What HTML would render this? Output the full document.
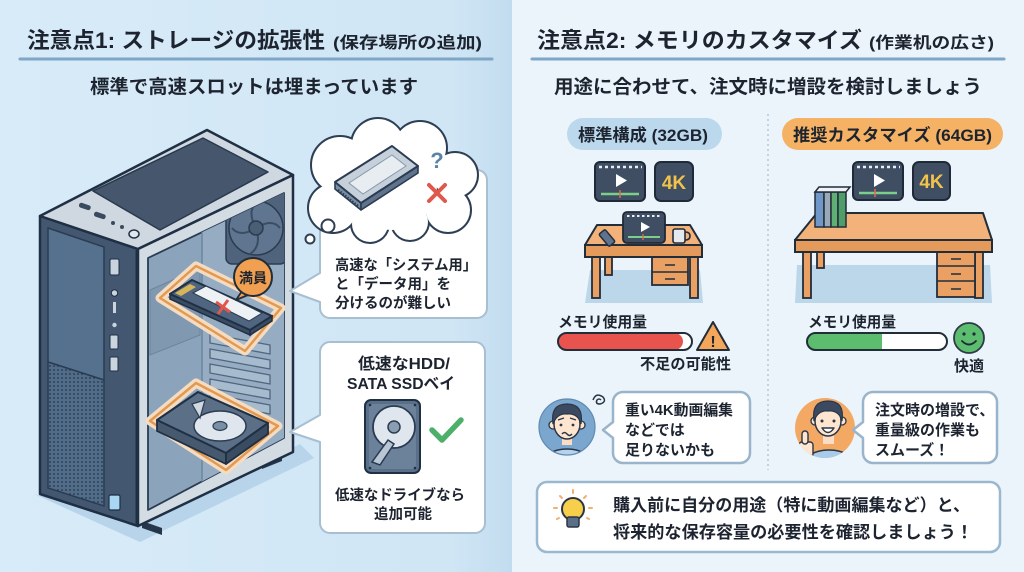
<!DOCTYPE html>
<html><head><meta charset="utf-8">
<style>
html,body{margin:0;padding:0;width:1024px;height:572px;overflow:hidden;background:#eaf4fa;}
svg{display:block;}
text{font-family:"Liberation Sans","Noto Sans CJK JP",sans-serif;fill:#1d2430;}
</style></head><body>
<svg width="1024" height="572" viewBox="0 0 1024 572" xmlns="http://www.w3.org/2000/svg">
<defs>
<linearGradient id="lbg" x1="0" x2="1" y1="0" y2="0">
<stop offset="0" stop-color="#d8ebf8"/><stop offset="0.88" stop-color="#d0e6f5"/><stop offset="1" stop-color="#c2dcef"/>
</linearGradient>
<pattern id="mesh" width="4" height="4" patternUnits="userSpaceOnUse"><rect width="4" height="4" fill="#516c88"/><circle cx="2" cy="2" r="0.9" fill="#24364c"/></pattern>
<clipPath id="inter"><polygon points="148,258 284,193 284,438 148,510"/></clipPath>
<clipPath id="av1"><circle cx="567" cy="427" r="28"/></clipPath>
<clipPath id="av2"><circle cx="825" cy="428" r="30"/></clipPath>
</defs>

<!-- backgrounds -->
<rect x="0" y="0" width="512" height="572" fill="url(#lbg)"/>
<rect x="512" y="0" width="512" height="572" fill="#eaf4fa"/>

<!-- LEFT TITLES -->
<text x="27" y="48" font-size="22" font-weight="700" textLength="298" lengthAdjust="spacingAndGlyphs">注意点1: ストレージの拡張性</text>
<text x="333" y="48" font-size="16" font-weight="700" textLength="149" lengthAdjust="spacingAndGlyphs">(保存場所の追加)</text>
<line x1="20" y1="59" x2="492" y2="59" stroke="#7ea6c6" stroke-width="3" stroke-linecap="round"/>
<text x="90" y="93" font-size="19" font-weight="700" textLength="328" lengthAdjust="spacingAndGlyphs">標準で高速スロットは埋まっています</text>

<!-- RIGHT TITLES -->
<text x="537" y="48" font-size="22" font-weight="700" textLength="325" lengthAdjust="spacingAndGlyphs">注意点2: メモリのカスタマイズ</text>
<text x="869" y="48" font-size="16" font-weight="700" textLength="125" lengthAdjust="spacingAndGlyphs">(作業机の広さ)</text>
<line x1="532" y1="59" x2="1004" y2="59" stroke="#7ea6c6" stroke-width="3" stroke-linecap="round"/>
<text x="554" y="93" font-size="19" font-weight="700" textLength="428" lengthAdjust="spacingAndGlyphs">用途に合わせて、注文時に増設を検討しましょう</text>

<!-- ================= PC CASE ================= -->
<polygon points="34,494 140,542 314,458 300,444 140,522" fill="#b8d4ea"/>
<polygon points="142,521 162,528 162,535 142,528" fill="#26364a"/>
<polygon points="262,460 282,452 282,461 262,469" fill="#26364a"/>
<!-- front face -->
<polygon points="40,216 138,249 138,526 40,494" fill="#435870" stroke="#1f2f44" stroke-width="2.5" stroke-linejoin="round"/>
<polygon points="48,228 104,247 104,380 48,362" fill="#56718e" stroke="#2a3c52" stroke-width="1.5"/>
<polygon points="48,362 104,380 104,506 48,488" fill="url(#mesh)" stroke="#2a3c52" stroke-width="1.5"/>
<rect x="110" y="259" width="9" height="16" rx="1.5" fill="#cad4df" stroke="#1f2f44" stroke-width="1"/>
<circle cx="114.5" cy="293" r="3.2" fill="#cad4df" stroke="#1f2f44" stroke-width="1"/>
<rect x="113" y="302" width="3" height="11" fill="#cad4df"/>
<circle cx="114.5" cy="325" r="2.2" fill="#cad4df"/>
<rect x="110" y="335" width="8" height="14" rx="1" fill="#cad4df" stroke="#1f2f44" stroke-width="1"/>
<rect x="110" y="357" width="8" height="14" rx="1" fill="#cad4df" stroke="#1f2f44" stroke-width="1"/>
<rect x="109" y="495" width="11" height="15" rx="1.5" fill="#a9d6f2" stroke="#1f2f44" stroke-width="1.2"/>
<line x1="137" y1="250" x2="137" y2="525" stroke="#1f2f44" stroke-width="3"/>
<!-- top face -->
<polygon points="40,216 207,130 293,175 138,249" fill="#cfd8e1" stroke="#1f2f44" stroke-width="2.5" stroke-linejoin="round"/>
<polygon points="93,191 203,138 268,172 160,230" fill="#46566c" stroke="#2a3a4e" stroke-width="1.5" stroke-linejoin="round"/>
<rect x="79" y="204" width="12" height="5" rx="2.2" fill="#3a4a5e" transform="rotate(18.6 85 206)"/>
<rect x="94" y="213" width="12" height="5" rx="2.2" fill="#3a4a5e" transform="rotate(18.6 100 215)"/>
<circle cx="113" cy="223" r="2" fill="#3a4a5e"/>
<circle cx="122" cy="227" r="2" fill="#3a4a5e"/>
<ellipse cx="134" cy="234" rx="5" ry="4" fill="#dfe6ec" stroke="#1f2f44" stroke-width="1.5"/>
<!-- side face -->
<polygon points="138,249 293,175 293,452 138,526" fill="#d3dbe3" stroke="#1f2f44" stroke-width="2.5" stroke-linejoin="round"/>
<polygon points="148,258 284,193 284,438 148,510" fill="#8ca4bb" stroke="#2a3c52" stroke-width="1.8" stroke-linejoin="round"/>
<g clip-path="url(#inter)">
  <polygon points="202,230 284,193 284,438 202,482" fill="#95acc2"/>
  <line x1="202" y1="230" x2="202" y2="482" stroke="#6d869e" stroke-width="1.5"/>
  <polygon points="150,290 200,268 200,335 150,355" fill="#8199b0" stroke="#6d869e" stroke-width="1"/>
  <!-- fan -->
  <rect x="226" y="190" width="60" height="74" rx="6" fill="#4f647c" stroke="#2a3c52" stroke-width="1.5"/>
  <circle cx="256" cy="228" r="27" fill="#5f7590" stroke="#2a3c52" stroke-width="1.5"/>
  <g stroke="#3a4d63" stroke-width="2" fill="none">
    <path d="M256,228 Q246,210 258,202"/><path d="M256,228 Q272,218 280,228"/>
    <path d="M256,228 Q262,246 250,254"/><path d="M256,228 Q240,238 232,228"/>
  </g>
  <circle cx="256" cy="228" r="7" fill="#4a5e76" stroke="#2a3c52" stroke-width="1.5"/>
  <!-- slots -->
  <g fill="#a7bbce" stroke="#4f667e" stroke-width="1.3">
    <polygon points="210,334 270,345 270,354 210,343"/>
    <polygon points="210,349 270,360 270,369 210,358"/>
    <polygon points="210,364 270,375 270,384 210,373"/>
    <polygon points="210,379 270,390 270,399 210,388"/>
    <polygon points="210,394 270,405 270,414 210,403"/>
  </g>
</g>
<!-- HDD in case -->
<polygon points="150,421 196,383 278,426 226,470" fill="none" stroke="#f4dcc2" stroke-width="9" stroke-linejoin="round"/>
<polygon points="150,421 196,383 278,426 226,470" fill="none" stroke="#e4994f" stroke-width="2.5" stroke-linejoin="round"/>
<polygon points="157,420 226,453 226,464 157,431" fill="#46596f" stroke="#1f2f44" stroke-width="1.8" stroke-linejoin="round"/>
<polygon points="226,453 268,423 268,434 226,464" fill="#3a4c61" stroke="#1f2f44" stroke-width="1.8" stroke-linejoin="round"/>
<polygon points="157,420 198,392 268,423 226,453" fill="#5b6f86" stroke="#1f2f44" stroke-width="2" stroke-linejoin="round"/>
<ellipse cx="220" cy="426" rx="26" ry="15" fill="#dfe6ee" stroke="#2a3c52" stroke-width="1.5"/>
<ellipse cx="220" cy="426" rx="7" ry="4.5" fill="#7a8fa5" stroke="#2a3c52" stroke-width="1.2"/>
<path d="M192,404 L205,400 L200,418 Z" fill="#cfd8e1" stroke="#2a3c52" stroke-width="1.2"/>
<!-- SSD in case -->
<polygon points="160,298 196,266 281,308 245,351" fill="none" stroke="#f4dcc2" stroke-width="9" stroke-linejoin="round"/>
<polygon points="160,298 196,266 281,308 245,351" fill="none" stroke="#e4994f" stroke-width="2.5" stroke-linejoin="round"/>
<polygon points="170,294 250,330 250,335 170,299" fill="#3a4c61" stroke="#1f2f44" stroke-width="1.5"/>
<polygon points="250,330 272,316 272,321 250,335" fill="#3a4c61" stroke="#1f2f44" stroke-width="1.5"/>
<polygon points="170,294 192,280 272,316 250,330" fill="#506580" stroke="#1f2f44" stroke-width="2" stroke-linejoin="round"/>
<polygon points="175,293 190,284 196,287 181,296" fill="#d6b45a"/>
<polygon points="193,293 206,286 262,313 249,321" fill="#eef2f5" stroke="#2a3c52" stroke-width="1"/>
<line x1="216" y1="302" x2="230" y2="312" stroke="#e0574c" stroke-width="3"/>
<line x1="228" y1="300" x2="218" y2="314" stroke="#e0574c" stroke-width="3"/>
<!-- badge -->
<path d="M242,291 L236,300 L248,295 Z" fill="#f0a050" stroke="#222d3a" stroke-width="1.8" stroke-linejoin="round"/>
<circle cx="253" cy="277" r="19" fill="#f0a050" stroke="#222d3a" stroke-width="2"/>
<text x="253" y="283" font-size="14" font-weight="700" text-anchor="middle">満員</text>

<!-- ================= BUBBLE 1 ================= -->
<path d="M330,170 H477 A10,10 0 0 1 487,180 V308 A10,10 0 0 1 477,318 H330 A10,10 0 0 1 320,308 V302 L290,291 L320,273 V180 A10,10 0 0 1 330,170 Z" fill="#fff" stroke="#a7bfd1" stroke-width="2" stroke-linejoin="round"/>
<text x="335" y="270" font-size="14.5" font-weight="700" textLength="142" lengthAdjust="spacingAndGlyphs">高速な「システム用」</text>
<text x="335" y="289" font-size="14.5" font-weight="700">と「データ用」を</text>
<text x="335" y="308" font-size="14.5" font-weight="700">分けるのが難しい</text>
<!-- cloud -->
<g fill="#fff" stroke="#2e3f55" stroke-width="4">
  <circle cx="340" cy="165" r="28"/><circle cx="378" cy="145" r="26"/><circle cx="420" cy="148" r="26"/>
  <circle cx="455" cy="175" r="22"/><circle cx="448" cy="210" r="22"/><circle cx="410" cy="222" r="18"/>
  <circle cx="370" cy="224" r="18"/><circle cx="333" cy="208" r="24"/>
</g>
<g fill="#fff">
  <circle cx="340" cy="165" r="28"/><circle cx="378" cy="145" r="26"/><circle cx="420" cy="148" r="26"/>
  <circle cx="455" cy="175" r="22"/><circle cx="448" cy="210" r="22"/><circle cx="410" cy="222" r="18"/>
  <circle cx="370" cy="224" r="18"/><circle cx="333" cy="208" r="24"/><circle cx="392" cy="185" r="45"/>
</g>
<circle cx="328" cy="226" r="6.5" fill="#fff" stroke="#2e3f55" stroke-width="2"/>
<circle cx="310" cy="239" r="4.5" fill="#fff" stroke="#2e3f55" stroke-width="2"/>
<!-- ssd icon in cloud -->
<polygon points="335,182 361,203 361,210 335,189" fill="#7a8ea4" stroke="#2a3c52" stroke-width="1.6" stroke-linejoin="round"/>
<polygon points="361,203 418,166 418,173 361,210" fill="#5f748c" stroke="#2a3c52" stroke-width="1.6" stroke-linejoin="round"/>
<polygon points="335,182 392,146 418,166 361,203" fill="#c6d0da" stroke="#2a3c52" stroke-width="2" stroke-linejoin="round"/>
<polygon points="349,183 392,155 406,166 363,194" fill="#e8edf2" stroke="#8899ab" stroke-width="1"/>
<line x1="338" y1="190" x2="358" y2="206" stroke="#2a3c52" stroke-width="2.5" stroke-dasharray="1.5 1.5"/>
<text x="437" y="168" font-size="22" font-weight="700" text-anchor="middle" style="fill:#5a83a8">?</text>
<line x1="429" y1="185" x2="445" y2="201" stroke="#e0574c" stroke-width="4" stroke-linecap="round"/>
<line x1="445" y1="185" x2="429" y2="201" stroke="#e0574c" stroke-width="4" stroke-linecap="round"/>

<!-- ================= BUBBLE 2 ================= -->
<path d="M330,342 H475 A10,10 0 0 1 485,352 V523 A10,10 0 0 1 475,533 H330 A10,10 0 0 1 320,523 V442 L290,432 L320,415 V352 A10,10 0 0 1 330,342 Z" fill="#fff" stroke="#a7bfd1" stroke-width="2" stroke-linejoin="round"/>
<text x="404" y="369" font-size="16" font-weight="700" text-anchor="middle" textLength="92" lengthAdjust="spacingAndGlyphs">低速なHDD/</text>
<text x="401" y="389" font-size="16" font-weight="700" text-anchor="middle" textLength="108" lengthAdjust="spacingAndGlyphs">SATA SSDベイ</text>
<rect x="365" y="400" width="55" height="73" rx="6" fill="#5a7089" stroke="#1f2f44" stroke-width="2"/>
<rect x="369" y="404" width="47" height="65" rx="4" fill="#6c829b"/>
<circle cx="394" cy="427" r="21" fill="#dfe6ee" stroke="#2a3c52" stroke-width="1.8"/>
<circle cx="394" cy="427" r="6" fill="#8a9db1" stroke="#2a3c52" stroke-width="1.5"/>
<path d="M372,462 L388,440 L394,444 L380,465 Z" fill="#b9c7d5" stroke="#2a3c52" stroke-width="1.5"/>
<circle cx="370" cy="405" r="1.3" fill="#1f2f44"/><circle cx="415" cy="405" r="1.3" fill="#1f2f44"/>
<circle cx="370" cy="468" r="1.3" fill="#1f2f44"/><circle cx="415" cy="468" r="1.3" fill="#1f2f44"/>
<polyline points="432,430 442,440 461,420" fill="none" stroke="#4caf6a" stroke-width="5.5" stroke-linecap="round" stroke-linejoin="round"/>
<text x="335" y="500" font-size="14.5" font-weight="700" textLength="130" lengthAdjust="spacingAndGlyphs">低速なドライブなら</text>
<text x="403" y="519" font-size="14.5" font-weight="700" text-anchor="middle">追加可能</text>

<!-- ================= RIGHT PANEL ================= -->
<line x1="768" y1="114" x2="768" y2="470" stroke="#b5c8d6" stroke-width="1.5" stroke-dasharray="2 3"/>

<!-- pills -->
<rect x="567" y="118" width="155" height="32" rx="16" fill="#bcd8ed"/>
<text x="578" y="141" font-size="17" font-weight="700" textLength="130" lengthAdjust="spacingAndGlyphs">標準構成 (32GB)</text>
<rect x="782" y="118" width="221" height="32" rx="16" fill="#f5b264"/>
<text x="793" y="141" font-size="17" font-weight="700" textLength="199" lengthAdjust="spacingAndGlyphs">推奨カスタマイズ (64GB)</text>

<!-- icons left -->
<g transform="translate(595,162)">
<rect width="50" height="39" rx="5" fill="#3f4e62" stroke="#1f2a38" stroke-width="2"/>
<line x1="4" y1="5" x2="47" y2="5" stroke="#e8eef4" stroke-width="2.5" stroke-dasharray="3 3"/>
<polygon points="21,12 21,25 32,18.5" fill="#fff"/>
<line x1="6" y1="32" x2="44" y2="32" stroke="#7ccf8a" stroke-width="2.5"/>
<line x1="25" y1="28" x2="25" y2="36" stroke="#e06a4a" stroke-width="1.5"/>
</g>
<g transform="translate(655,162)">
<rect width="38" height="39" rx="6" fill="#3f4e62" stroke="#1f2a38" stroke-width="2"/>
<text x="19" y="27" font-size="19" font-weight="700" text-anchor="middle" style="fill:#f2c34a">4K</text>
</g>
<!-- icons right -->
<g transform="translate(853,162)">
<rect width="50" height="38" rx="5" fill="#3f4e62" stroke="#1f2a38" stroke-width="2"/>
<line x1="4" y1="5" x2="47" y2="5" stroke="#e8eef4" stroke-width="2.5" stroke-dasharray="3 3"/>
<polygon points="21,12 21,25 32,18.5" fill="#fff"/>
<line x1="6" y1="31" x2="44" y2="31" stroke="#7ccf8a" stroke-width="2.5"/>
<line x1="22" y1="27" x2="22" y2="35" stroke="#e06a4a" stroke-width="1.5"/>
</g>
<g transform="translate(913,162)">
<rect width="37" height="38" rx="6" fill="#3f4e62" stroke="#1f2a38" stroke-width="2"/>
<text x="18.5" y="26" font-size="19" font-weight="700" text-anchor="middle" style="fill:#f2c34a">4K</text>
</g>

<!-- desk 1 -->
<polygon points="590,270 700,270 703,303 585,303" fill="#bcd6ea"/>
<g fill="#e9a062" stroke="#222d3a" stroke-width="1.8">
<rect x="605" y="255" width="7" height="20"/>
<rect x="592" y="255" width="8" height="43"/>
<rect x="690" y="255" width="8" height="43"/>
<rect x="652" y="256" width="36" height="29"/>
</g>
<line x1="652" y1="272" x2="688" y2="272" stroke="#222d3a" stroke-width="1.5"/>
<line x1="665" y1="265" x2="675" y2="265" stroke="#222d3a" stroke-width="1.5"/>
<line x1="665" y1="279" x2="675" y2="279" stroke="#222d3a" stroke-width="1.5"/>
<polygon points="597,225 690,225 702,245 585,245" fill="#f2b27a" stroke="#222d3a" stroke-width="2" stroke-linejoin="round"/>
<rect x="585" y="245" width="117" height="12" fill="#e49a5a" stroke="#222d3a" stroke-width="2"/>
<g transform="translate(623,212)">
<rect width="42" height="31" rx="4" fill="#3f4e62" stroke="#1f2a38" stroke-width="1.8"/>
<line x1="4" y1="4" x2="39" y2="4" stroke="#e8eef4" stroke-width="2" stroke-dasharray="2.5 2.5"/>
<polygon points="18,10 18,20 27,15" fill="#fff"/>
<line x1="5" y1="25" x2="37" y2="25" stroke="#7ccf8a" stroke-width="2"/>
<line x1="20" y1="22" x2="20" y2="28" stroke="#e06a4a" stroke-width="1.3"/>
</g>
<rect x="603" y="230" width="8" height="16" rx="1.5" fill="#5d7390" stroke="#222d3a" stroke-width="1.5" transform="rotate(-40 607 238)"/>
<rect x="673" y="229" width="12" height="14" rx="2" fill="#e3e9ef" stroke="#222d3a" stroke-width="1.6"/>
<path d="M685,232 q5,0 5,4 q0,4 -5,4" fill="none" stroke="#222d3a" stroke-width="1.6"/>

<!-- desk 2 -->
<polygon points="797,265 990,265 992,303 795,303" fill="#bcd6ea"/>
<g fill="#e9a062" stroke="#222d3a" stroke-width="1.8">
<rect x="817" y="250" width="7" height="18"/>
<rect x="803" y="250" width="8" height="48"/>
<rect x="975" y="250" width="8" height="48"/>
<rect x="937" y="250" width="38" height="47"/>
</g>
<line x1="937" y1="266" x2="975" y2="266" stroke="#222d3a" stroke-width="1.5"/>
<line x1="937" y1="281" x2="975" y2="281" stroke="#222d3a" stroke-width="1.5"/>
<line x1="951" y1="259" x2="961" y2="259" stroke="#222d3a" stroke-width="1.5"/>
<line x1="951" y1="274" x2="961" y2="274" stroke="#222d3a" stroke-width="1.5"/>
<line x1="951" y1="289" x2="961" y2="289" stroke="#222d3a" stroke-width="1.5"/>
<polygon points="817,213 983,213 992,240 795,240" fill="#f2b27a" stroke="#222d3a" stroke-width="2" stroke-linejoin="round"/>
<rect x="795" y="240" width="197" height="12" fill="#e49a5a" stroke="#222d3a" stroke-width="2"/>
<!-- books -->
<rect x="815" y="192" width="9" height="35" fill="#6f97c8" stroke="#222d3a" stroke-width="1.5"/>
<rect x="824" y="192" width="7" height="35" fill="#9aa9b8" stroke="#222d3a" stroke-width="1.5"/>
<rect x="831" y="192" width="7" height="35" fill="#5fae73" stroke="#222d3a" stroke-width="1.5"/>
<rect x="838" y="192" width="8" height="35" fill="#4f9d68" stroke="#222d3a" stroke-width="1.5"/>
<polygon points="815,192 819,187 850,187 846,192" fill="#eef2f5" stroke="#222d3a" stroke-width="1.5"/>

<!-- meter 1 -->
<text x="558" y="327" font-size="15" font-weight="700" textLength="89" lengthAdjust="spacingAndGlyphs">メモリ使用量</text>
<rect x="558" y="333" width="134" height="17" rx="8.5" fill="#fff"/>
<rect x="558" y="333" width="125" height="17" rx="8.5" fill="#e8534d"/>
<rect x="558" y="333" width="134" height="17" rx="8.5" fill="none" stroke="#222d3a" stroke-width="2"/>
<polygon points="713,322 729,350 697,350" fill="#f4a65a" stroke="#222d3a" stroke-width="2" stroke-linejoin="round"/>
<text x="713" y="347" font-size="16" font-weight="700" text-anchor="middle">!</text>
<text x="640" y="369" font-size="15" font-weight="700" textLength="91" lengthAdjust="spacingAndGlyphs">不足の可能性</text>

<!-- meter 2 -->
<text x="808" y="327" font-size="15" font-weight="700" textLength="88" lengthAdjust="spacingAndGlyphs">メモリ使用量</text>
<rect x="807" y="333" width="140" height="17" rx="8.5" fill="#fff"/>
<rect x="807" y="333" width="75" height="17" rx="8.5" fill="#5cbd6e"/>
<rect x="870" y="333" width="12" height="17" fill="#5cbd6e"/>
<rect x="807" y="333" width="140" height="17" rx="8.5" fill="none" stroke="#222d3a" stroke-width="2"/>
<circle cx="969" cy="338" r="15" fill="#5cbd6e" stroke="#2d3a48" stroke-width="1.8"/>
<circle cx="964" cy="334" r="1.6" fill="#1f2a38"/><circle cx="974" cy="334" r="1.6" fill="#1f2a38"/>
<path d="M962,341 Q969,348 976,341" fill="none" stroke="#1f2a38" stroke-width="1.8" stroke-linecap="round"/>
<text x="969" y="371" font-size="15" font-weight="700" text-anchor="middle">快適</text>

<!-- avatar left -->
<circle cx="567" cy="427" r="28" fill="#7ba6ce"/>
<g clip-path="url(#av1)">
  <ellipse cx="567" cy="463" rx="24" ry="14" fill="#b5d3ee" stroke="#2a3646" stroke-width="1.5"/>
  <rect x="562" y="435" width="10" height="10" fill="#fbdcc4"/>
  <circle cx="553" cy="425" r="4" fill="#fde5d0" stroke="#2a3646" stroke-width="1.3"/>
  <circle cx="581" cy="425" r="4" fill="#fde5d0" stroke="#2a3646" stroke-width="1.3"/>
  <ellipse cx="567" cy="424" rx="13" ry="15" fill="#fde5d0" stroke="#2a3646" stroke-width="1.5"/>
  <path d="M553,424 Q550,404 567,404 Q584,404 581,424 Q578,413 567,414 Q557,413 553,424 Z" fill="#3b4a60" stroke="#2a3646" stroke-width="1.2"/>
  <line x1="558" y1="420" x2="564" y2="418" stroke="#2a3646" stroke-width="1.3"/>
  <line x1="570" y1="418" x2="576" y2="420" stroke="#2a3646" stroke-width="1.3"/>
  <circle cx="561" cy="425" r="1.4" fill="#2a3646"/><circle cx="573" cy="425" r="1.4" fill="#2a3646"/>
  <path d="M562,434 Q564.5,431 567,434 Q569.5,437 572,434" fill="none" stroke="#2a3646" stroke-width="1.4"/>
</g>
<circle cx="567" cy="427" r="28" fill="none" stroke="#5f8ab2" stroke-width="1.2"/>
<path d="M593,400 q3,-8 10,-3 q4,5 -3,7 q-5,0 -3,-4 q2,-2 4,0" fill="none" stroke="#2a3646" stroke-width="1.5"/>
<path d="M623,392 H740 A10,10 0 0 1 750,402 V453 A10,10 0 0 1 740,463 H623 A10,10 0 0 1 613,453 V438 L603,430 L613,422 V402 A10,10 0 0 1 623,392 Z" fill="#fff" stroke="#9ab5cb" stroke-width="2.5" stroke-linejoin="round"/>
<text x="625" y="415" font-size="15" font-weight="700" textLength="108" lengthAdjust="spacingAndGlyphs">重い4K動画編集</text>
<text x="625" y="435" font-size="15" font-weight="700">などでは</text>
<text x="625" y="455" font-size="15" font-weight="700">足りないかも</text>

<!-- avatar right -->
<circle cx="825" cy="428" r="30" fill="#f3a964"/>
<g clip-path="url(#av2)">
  <ellipse cx="829" cy="465" rx="26" ry="15" fill="#a8cbe8" stroke="#2a3646" stroke-width="1.5"/>
  <rect x="823" y="434" width="11" height="10" fill="#fbdcc4"/>
  <circle cx="815" cy="421" r="4" fill="#fde5d0" stroke="#2a3646" stroke-width="1.3"/>
  <circle cx="842" cy="421" r="4" fill="#fde5d0" stroke="#2a3646" stroke-width="1.3"/>
  <ellipse cx="828" cy="421" rx="13" ry="15" fill="#fde5d0" stroke="#2a3646" stroke-width="1.5"/>
  <path d="M814,421 Q811,401 828,401 Q845,401 842,421 Q839,410 828,411 Q818,410 814,421 Z" fill="#3b4a60" stroke="#2a3646" stroke-width="1.2"/>
  <circle cx="822" cy="421" r="1.5" fill="#2a3646"/><circle cx="834" cy="421" r="1.5" fill="#2a3646"/>
  <path d="M822,428 Q828,437 834,428 Z" fill="#fff" stroke="#2a3646" stroke-width="1.4" stroke-linejoin="round"/>
  <rect x="799" y="442" width="14" height="15" rx="3" fill="#fde5d0" stroke="#2a3646" stroke-width="1.4"/>
  <rect x="802" y="431" width="6" height="13" rx="3" fill="#fde5d0" stroke="#2a3646" stroke-width="1.4"/>
</g>
<path d="M873,392 H987 A10,10 0 0 1 997,402 V453 A10,10 0 0 1 987,463 H873 A10,10 0 0 1 863,453 V438 L853,430 L863,422 V402 A10,10 0 0 1 873,392 Z" fill="#fff" stroke="#9ab5cb" stroke-width="2.5" stroke-linejoin="round"/>
<text x="875" y="415" font-size="15" font-weight="700">注文時の増設で、</text>
<text x="875" y="435" font-size="15" font-weight="700">重量級の作業も</text>
<text x="875" y="455" font-size="15" font-weight="700">スムーズ！</text>

<!-- tip box -->
<rect x="537" y="482" width="463" height="70" rx="10" fill="#fff" stroke="#9ab8d0" stroke-width="2.5"/>
<g stroke="#f0b070" stroke-width="2" stroke-linecap="round">
<line x1="573" y1="490" x2="573" y2="493"/><line x1="560" y1="496" x2="562" y2="498"/><line x1="586" y1="496" x2="584" y2="498"/>
<line x1="554" y1="508" x2="557" y2="508"/><line x1="589" y1="508" x2="592" y2="508"/>
<line x1="557" y1="519" x2="559" y2="518"/><line x1="589" y1="519" x2="587" y2="518"/>
</g>
<circle cx="573" cy="509" r="11" fill="#f7cf4a" stroke="#2b3646" stroke-width="2"/>
<rect x="567" y="517" width="12" height="10" rx="2" fill="#5b7088" stroke="#2b3646" stroke-width="1.5"/>
<text x="613" y="511" font-size="17" font-weight="700" textLength="357" lengthAdjust="spacingAndGlyphs">購入前に自分の用途（特に動画編集など）と、</text>
<text x="613" y="538" font-size="17" font-weight="700" textLength="360" lengthAdjust="spacingAndGlyphs">将来的な保存容量の必要性を確認しましょう！</text>
</svg>
</body></html>
